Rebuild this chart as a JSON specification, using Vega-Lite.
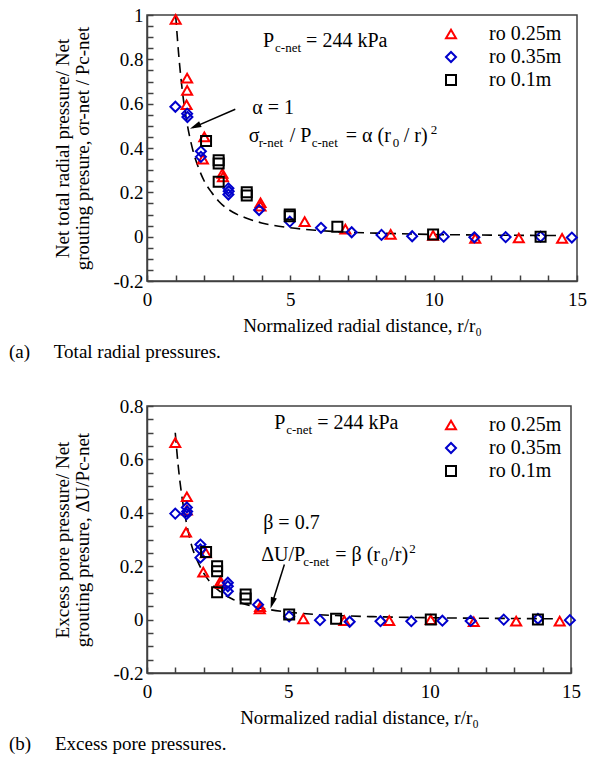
{
  "$schema": "https://vega.github.io/schema/vega-lite/v6.json",
  "padding": {"left": 8, "top": 5, "right": 5, "bottom": 5},
  "spacing": 33,
  "datasets": {
    "topPts": [
      {"r": 1.0, "v": 0.98, "series": "ro 0.25m"},
      {"r": 1.4, "v": 0.715, "series": "ro 0.25m"},
      {"r": 1.4, "v": 0.66, "series": "ro 0.25m"},
      {"r": 1.38, "v": 0.595, "series": "ro 0.25m"},
      {"r": 2.0, "v": 0.45, "series": "ro 0.25m"},
      {"r": 1.95, "v": 0.35, "series": "ro 0.25m"},
      {"r": 2.63, "v": 0.285, "series": "ro 0.25m"},
      {"r": 2.65, "v": 0.27, "series": "ro 0.25m"},
      {"r": 3.96, "v": 0.153, "series": "ro 0.25m"},
      {"r": 3.96, "v": 0.138, "series": "ro 0.25m"},
      {"r": 5.5, "v": 0.068, "series": "ro 0.25m"},
      {"r": 6.92, "v": 0.034, "series": "ro 0.25m"},
      {"r": 8.5, "v": 0.01, "series": "ro 0.25m"},
      {"r": 9.98, "v": 0.006, "series": "ro 0.25m"},
      {"r": 11.45, "v": -0.008, "series": "ro 0.25m"},
      {"r": 12.97, "v": -0.006, "series": "ro 0.25m"},
      {"r": 14.48, "v": -0.008, "series": "ro 0.25m"},
      {"r": 0.99, "v": 0.586, "series": "ro 0.35m"},
      {"r": 1.4, "v": 0.555, "series": "ro 0.35m"},
      {"r": 1.41, "v": 0.54, "series": "ro 0.35m"},
      {"r": 1.88, "v": 0.385, "series": "ro 0.35m"},
      {"r": 1.88, "v": 0.36, "series": "ro 0.35m"},
      {"r": 2.84, "v": 0.218, "series": "ro 0.35m"},
      {"r": 2.85, "v": 0.205, "series": "ro 0.35m"},
      {"r": 2.84, "v": 0.19, "series": "ro 0.35m"},
      {"r": 3.91, "v": 0.12, "series": "ro 0.35m"},
      {"r": 4.98, "v": 0.068, "series": "ro 0.35m"},
      {"r": 6.07, "v": 0.04, "series": "ro 0.35m"},
      {"r": 7.14, "v": 0.02, "series": "ro 0.35m"},
      {"r": 8.18, "v": 0.008, "series": "ro 0.35m"},
      {"r": 9.25, "v": 0.002, "series": "ro 0.35m"},
      {"r": 10.35, "v": 0.0, "series": "ro 0.35m"},
      {"r": 11.42, "v": -0.003, "series": "ro 0.35m"},
      {"r": 12.51, "v": -0.002, "series": "ro 0.35m"},
      {"r": 13.73, "v": 0.0, "series": "ro 0.35m"},
      {"r": 14.82, "v": -0.004, "series": "ro 0.35m"},
      {"r": 2.06, "v": 0.432, "series": "ro 0.1m"},
      {"r": 2.5, "v": 0.345, "series": "ro 0.1m"},
      {"r": 2.5, "v": 0.33, "series": "ro 0.1m"},
      {"r": 2.5, "v": 0.248, "series": "ro 0.1m"},
      {"r": 3.48, "v": 0.2, "series": "ro 0.1m"},
      {"r": 3.48, "v": 0.186, "series": "ro 0.1m"},
      {"r": 4.98, "v": 0.1, "series": "ro 0.1m"},
      {"r": 4.98, "v": 0.092, "series": "ro 0.1m"},
      {"r": 6.64, "v": 0.045, "series": "ro 0.1m"},
      {"r": 9.98, "v": 0.01, "series": "ro 0.1m"},
      {"r": 13.73, "v": 0.0, "series": "ro 0.1m"}
    ],
    "botPts": [
      {"r": 1.0, "v": 0.663, "series": "ro 0.25m"},
      {"r": 1.41, "v": 0.46, "series": "ro 0.25m"},
      {"r": 1.41, "v": 0.41, "series": "ro 0.25m"},
      {"r": 1.38, "v": 0.327, "series": "ro 0.25m"},
      {"r": 2.08, "v": 0.25, "series": "ro 0.25m"},
      {"r": 1.99, "v": 0.178, "series": "ro 0.25m"},
      {"r": 2.6, "v": 0.144, "series": "ro 0.25m"},
      {"r": 2.62, "v": 0.135, "series": "ro 0.25m"},
      {"r": 3.99, "v": 0.04, "series": "ro 0.25m"},
      {"r": 4.0, "v": 0.048, "series": "ro 0.25m"},
      {"r": 5.53, "v": 0.003, "series": "ro 0.25m"},
      {"r": 6.98, "v": -0.004, "series": "ro 0.25m"},
      {"r": 8.57, "v": -0.004, "series": "ro 0.25m"},
      {"r": 10.04, "v": 0.0, "series": "ro 0.25m"},
      {"r": 11.56, "v": -0.008, "series": "ro 0.25m"},
      {"r": 13.06, "v": -0.006, "series": "ro 0.25m"},
      {"r": 14.6, "v": -0.006, "series": "ro 0.25m"},
      {"r": 1.0, "v": 0.397, "series": "ro 0.35m"},
      {"r": 1.41, "v": 0.42, "series": "ro 0.35m"},
      {"r": 1.42, "v": 0.405, "series": "ro 0.35m"},
      {"r": 1.4, "v": 0.395, "series": "ro 0.35m"},
      {"r": 1.89, "v": 0.281, "series": "ro 0.35m"},
      {"r": 1.89, "v": 0.263, "series": "ro 0.35m"},
      {"r": 1.89, "v": 0.232, "series": "ro 0.35m"},
      {"r": 2.86, "v": 0.138, "series": "ro 0.35m"},
      {"r": 2.86, "v": 0.125, "series": "ro 0.35m"},
      {"r": 2.86, "v": 0.106, "series": "ro 0.35m"},
      {"r": 3.93, "v": 0.056, "series": "ro 0.35m"},
      {"r": 5.03, "v": 0.012, "series": "ro 0.35m"},
      {"r": 6.12, "v": -0.002, "series": "ro 0.35m"},
      {"r": 7.17, "v": -0.008, "series": "ro 0.35m"},
      {"r": 8.26, "v": -0.006, "series": "ro 0.35m"},
      {"r": 9.35, "v": -0.006, "series": "ro 0.35m"},
      {"r": 10.45, "v": -0.004, "series": "ro 0.35m"},
      {"r": 11.45, "v": -0.005, "series": "ro 0.35m"},
      {"r": 12.62, "v": 0.0, "series": "ro 0.35m"},
      {"r": 13.83, "v": 0.003, "series": "ro 0.35m"},
      {"r": 14.96, "v": -0.002, "series": "ro 0.35m"},
      {"r": 2.09, "v": 0.253, "series": "ro 0.1m"},
      {"r": 2.48, "v": 0.2, "series": "ro 0.1m"},
      {"r": 2.48, "v": 0.181, "series": "ro 0.1m"},
      {"r": 2.48, "v": 0.102, "series": "ro 0.1m"},
      {"r": 3.49, "v": 0.094, "series": "ro 0.1m"},
      {"r": 3.49, "v": 0.079, "series": "ro 0.1m"},
      {"r": 5.03, "v": 0.019, "series": "ro 0.1m"},
      {"r": 6.69, "v": 0.003, "series": "ro 0.1m"},
      {"r": 10.04, "v": 0.0, "series": "ro 0.1m"},
      {"r": 13.83, "v": 0.0, "series": "ro 0.1m"}
    ],
    "topCurve": [
      {"r": 1.0, "v": 1.0}, {"r": 1.1, "v": 0.83}, {"r": 1.25, "v": 0.64}, {"r": 1.4, "v": 0.51},
      {"r": 1.6, "v": 0.39}, {"r": 1.8, "v": 0.31}, {"r": 2.0, "v": 0.25}, {"r": 2.25, "v": 0.2},
      {"r": 2.5, "v": 0.16}, {"r": 3.0, "v": 0.11}, {"r": 3.5, "v": 0.082}, {"r": 4.0, "v": 0.062},
      {"r": 5.0, "v": 0.04}, {"r": 6.0, "v": 0.028}, {"r": 7.0, "v": 0.02}, {"r": 8.0, "v": 0.016},
      {"r": 10.0, "v": 0.01}, {"r": 12.0, "v": 0.007}, {"r": 14.5, "v": 0.005}
    ],
    "botCurve": [
      {"r": 1.0, "v": 0.7}, {"r": 1.1, "v": 0.58}, {"r": 1.25, "v": 0.45}, {"r": 1.4, "v": 0.36},
      {"r": 1.6, "v": 0.27}, {"r": 1.8, "v": 0.216}, {"r": 2.0, "v": 0.175}, {"r": 2.25, "v": 0.138},
      {"r": 2.5, "v": 0.112}, {"r": 3.0, "v": 0.078}, {"r": 3.5, "v": 0.057}, {"r": 4.0, "v": 0.044},
      {"r": 5.0, "v": 0.028}, {"r": 6.0, "v": 0.019}, {"r": 7.0, "v": 0.014}, {"r": 8.0, "v": 0.011},
      {"r": 10.0, "v": 0.007}, {"r": 12.0, "v": 0.005}, {"r": 14.5, "v": 0.003}
    ],
    "topArrow": [{"r": 3.08, "v": 0.575}, {"r": 1.6, "v": 0.492}],
    "topHead": [{"r": 1.68, "v": 0.497}],
    "botArrow": [{"r": 4.86, "v": 0.206}, {"r": 4.41, "v": 0.055}],
    "botHead": [{"r": 4.43, "v": 0.062}]
  },
  "vconcat": [
    {
      "width": 430,
      "height": 266,
      "title": {"text": "(a)\u00a0\u00a0\u00a0\u00a0\u00a0Total radial pressures.", "orient": "bottom", "anchor": "start", "frame": "group", "dx": -138, "offset": 8},
      "layer": [
        {"data": {"name": "topCurve"}, "mark": {"type": "line", "color": "#000", "strokeWidth": 1.6, "strokeDash": [10, 6], "interpolate": "monotone"},
          "encoding": {
            "x": {"field": "r", "type": "quantitative", "title": "Normalized radial distance, r/r\u2080", "scale": {"domain": [0, 15], "nice": false, "zero": false}},
            "y": {"field": "v", "type": "quantitative", "title": ["Net total radial pressure/ Net", "grouting presure, \u03c3r-net / Pc-net"], "scale": {"domain": [-0.2, 1], "nice": false, "zero": false}}
          }},
        {"data": {"name": "topPts"},
          "mark": {"type": "point", "filled": false, "strokeWidth": 2, "size": 100, "opacity": 1},
          "encoding": {
            "x": {"field": "r", "type": "quantitative", "title": "Normalized radial distance, r/r\u2080", "scale": {"domain": [0, 15], "nice": false, "zero": false}},
            "y": {"field": "v", "type": "quantitative", "title": ["Net total radial pressure/ Net", "grouting presure, \u03c3r-net / Pc-net"], "scale": {"domain": [-0.2, 1], "nice": false, "zero": false}},
            "shape": {"field": "series", "type": "nominal", "scale": {"domain": ["ro 0.25m", "ro 0.35m", "ro 0.1m"], "range": ["triangle-up", "diamond", "square"]},
              "legend": {"title": null, "orient": "none", "legendX": 294, "legendY": 9}},
            "color": {"field": "series", "type": "nominal", "scale": {"domain": ["ro 0.25m", "ro 0.35m", "ro 0.1m"], "range": ["#ff0000", "#0000cc", "#000000"]},
              "legend": {"title": null, "orient": "none", "legendX": 294, "legendY": 9}}
          }},
        {"data": {"name": "topArrow"}, "mark": {"type": "line", "color": "#000", "strokeWidth": 1.5},
          "encoding": {
            "x": {"field": "r", "type": "quantitative", "title": "Normalized radial distance, r/r\u2080", "scale": {"domain": [0, 15], "nice": false, "zero": false}},
            "y": {"field": "v", "type": "quantitative", "title": ["Net total radial pressure/ Net", "grouting presure, \u03c3r-net / Pc-net"], "scale": {"domain": [-0.2, 1], "nice": false, "zero": false}}
          }},
        {"data": {"name": "topHead"}, "mark": {"type": "point", "shape": "M0,-1L0.55,1L-0.55,1Z", "filled": true, "color": "#000", "size": 130, "angle": 246, "opacity": 1},
          "encoding": {
            "x": {"field": "r", "type": "quantitative", "title": "Normalized radial distance, r/r\u2080", "scale": {"domain": [0, 15], "nice": false, "zero": false}},
            "y": {"field": "v", "type": "quantitative", "title": ["Net total radial pressure/ Net", "grouting presure, \u03c3r-net / Pc-net"], "scale": {"domain": [-0.2, 1], "nice": false, "zero": false}}
          }},
        {"data": {"values": [{"t": "P"}]}, "mark": {"type": "text", "align": "left", "baseline": "alphabetic", "fontSize": 20},
          "encoding": {"x": {"datum": 4.05}, "y": {"datum": 0.856}, "text": {"field": "t"}}},
        {"data": {"values": [{"t": "c-net"}]}, "mark": {"type": "text", "align": "left", "baseline": "alphabetic", "fontSize": 13, "dx": 12, "dy": 5},
          "encoding": {"x": {"datum": 4.05}, "y": {"datum": 0.856}, "text": {"field": "t"}}},
        {"data": {"values": [{"t": "= 244 kPa"}]}, "mark": {"type": "text", "align": "left", "baseline": "alphabetic", "fontSize": 20, "dx": 43},
          "encoding": {"x": {"datum": 4.05}, "y": {"datum": 0.856}, "text": {"field": "t"}}},
        {"data": {"values": [{"t": "\u03b1 = 1"}]}, "mark": {"type": "text", "align": "left", "baseline": "alphabetic", "fontSize": 20},
          "encoding": {"x": {"datum": 3.67}, "y": {"datum": 0.554}, "text": {"field": "t"}}},
        {"data": {"values": [{"t": "\u03c3"}]}, "mark": {"type": "text", "align": "left", "baseline": "alphabetic", "fontSize": 20},
          "encoding": {"x": {"datum": 3.55}, "y": {"datum": 0.428}, "text": {"field": "t"}}},
        {"data": {"values": [{"t": "r-net"}]}, "mark": {"type": "text", "align": "left", "baseline": "alphabetic", "fontSize": 13, "dx": 10, "dy": 5},
          "encoding": {"x": {"datum": 3.55}, "y": {"datum": 0.428}, "text": {"field": "t"}}},
        {"data": {"values": [{"t": "/ P"}]}, "mark": {"type": "text", "align": "left", "baseline": "alphabetic", "fontSize": 20, "dx": 41},
          "encoding": {"x": {"datum": 3.55}, "y": {"datum": 0.428}, "text": {"field": "t"}}},
        {"data": {"values": [{"t": "c-net "}]}, "mark": {"type": "text", "align": "left", "baseline": "alphabetic", "fontSize": 13, "dx": 63, "dy": 5},
          "encoding": {"x": {"datum": 3.55}, "y": {"datum": 0.428}, "text": {"field": "t"}}},
        {"data": {"values": [{"t": "= \u03b1 (r"}]}, "mark": {"type": "text", "align": "left", "baseline": "alphabetic", "fontSize": 20, "dx": 97},
          "encoding": {"x": {"datum": 3.55}, "y": {"datum": 0.428}, "text": {"field": "t"}}},
        {"data": {"values": [{"t": "0"}]}, "mark": {"type": "text", "align": "left", "baseline": "alphabetic", "fontSize": 13, "dx": 144, "dy": 5},
          "encoding": {"x": {"datum": 3.55}, "y": {"datum": 0.428}, "text": {"field": "t"}}},
        {"data": {"values": [{"t": "/ r)"}]}, "mark": {"type": "text", "align": "left", "baseline": "alphabetic", "fontSize": 20, "dx": 155},
          "encoding": {"x": {"datum": 3.55}, "y": {"datum": 0.428}, "text": {"field": "t"}}},
        {"data": {"values": [{"t": "2"}]}, "mark": {"type": "text", "align": "left", "baseline": "alphabetic", "fontSize": 13, "dx": 182, "dy": -8},
          "encoding": {"x": {"datum": 3.55}, "y": {"datum": 0.428}, "text": {"field": "t"}}}
      ],
      "resolve": {"scale": {"color": "independent", "shape": "independent"}}
    },
    {
      "width": 424,
      "height": 267,
      "title": {"text": "(b)\u00a0\u00a0\u00a0\u00a0\u00a0Excess pore pressures.", "orient": "bottom", "anchor": "start", "frame": "group", "dx": -138, "offset": 8},
      "layer": [
        {"data": {"name": "botCurve"}, "mark": {"type": "line", "color": "#000", "strokeWidth": 1.6, "strokeDash": [10, 6], "interpolate": "monotone"},
          "encoding": {
            "x": {"field": "r", "type": "quantitative", "title": "Normalized radial distance, r/r\u2080", "scale": {"domain": [0, 15], "nice": false, "zero": false}},
            "y": {"field": "v", "type": "quantitative", "title": ["Excess pore pressure/ Net", "grouting presure, \u0394U/Pc-net"], "scale": {"domain": [-0.2, 0.8], "nice": false, "zero": false}}
          }},
        {"data": {"name": "botPts"},
          "mark": {"type": "point", "filled": false, "strokeWidth": 2, "size": 100, "opacity": 1},
          "encoding": {
            "x": {"field": "r", "type": "quantitative", "title": "Normalized radial distance, r/r\u2080", "scale": {"domain": [0, 15], "nice": false, "zero": false}},
            "y": {"field": "v", "type": "quantitative", "title": ["Excess pore pressure/ Net", "grouting presure, \u0394U/Pc-net"], "scale": {"domain": [-0.2, 0.8], "nice": false, "zero": false}},
            "shape": {"field": "series", "type": "nominal", "scale": {"domain": ["ro 0.25m", "ro 0.35m", "ro 0.1m"], "range": ["triangle-up", "diamond", "square"]},
              "legend": {"title": null, "orient": "none", "legendX": 294, "legendY": 9}},
            "color": {"field": "series", "type": "nominal", "scale": {"domain": ["ro 0.25m", "ro 0.35m", "ro 0.1m"], "range": ["#ff0000", "#0000cc", "#000000"]},
              "legend": {"title": null, "orient": "none", "legendX": 294, "legendY": 9}}
          }},
        {"data": {"name": "botArrow"}, "mark": {"type": "line", "color": "#000", "strokeWidth": 1.5},
          "encoding": {
            "x": {"field": "r", "type": "quantitative", "title": "Normalized radial distance, r/r\u2080", "scale": {"domain": [0, 15], "nice": false, "zero": false}},
            "y": {"field": "v", "type": "quantitative", "title": ["Excess pore pressure/ Net", "grouting presure, \u0394U/Pc-net"], "scale": {"domain": [-0.2, 0.8], "nice": false, "zero": false}}
          }},
        {"data": {"name": "botHead"}, "mark": {"type": "point", "shape": "M0,-1L0.55,1L-0.55,1Z", "filled": true, "color": "#000", "size": 130, "angle": 197, "opacity": 1},
          "encoding": {
            "x": {"field": "r", "type": "quantitative", "title": "Normalized radial distance, r/r\u2080", "scale": {"domain": [0, 15], "nice": false, "zero": false}},
            "y": {"field": "v", "type": "quantitative", "title": ["Excess pore pressure/ Net", "grouting presure, \u0394U/Pc-net"], "scale": {"domain": [-0.2, 0.8], "nice": false, "zero": false}}
          }},
        {"data": {"values": [{"t": "P "}]}, "mark": {"type": "text", "align": "left", "baseline": "alphabetic", "fontSize": 20},
          "encoding": {"x": {"datum": 4.5}, "y": {"datum": 0.713}, "text": {"field": "t"}}},
        {"data": {"values": [{"t": "c-net\u00a0"}]}, "mark": {"type": "text", "align": "left", "baseline": "alphabetic", "fontSize": 13, "dx": 12, "dy": 5},
          "encoding": {"x": {"datum": 4.5}, "y": {"datum": 0.713}, "text": {"field": "t"}}},
        {"data": {"values": [{"t": "= 244 kPa "}]}, "mark": {"type": "text", "align": "left", "baseline": "alphabetic", "fontSize": 20, "dx": 43},
          "encoding": {"x": {"datum": 4.5}, "y": {"datum": 0.713}, "text": {"field": "t"}}},
        {"data": {"values": [{"t": "\u03b2 = 0.7"}]}, "mark": {"type": "text", "align": "left", "baseline": "alphabetic", "fontSize": 20},
          "encoding": {"x": {"datum": 4.11}, "y": {"datum": 0.338}, "text": {"field": "t"}}},
        {"data": {"values": [{"t": "\u0394U/P"}]}, "mark": {"type": "text", "align": "left", "baseline": "alphabetic", "fontSize": 20},
          "encoding": {"x": {"datum": 4.04}, "y": {"datum": 0.221}, "text": {"field": "t"}}},
        {"data": {"values": [{"t": "c-net\u00a0\u00a0"}]}, "mark": {"type": "text", "align": "left", "baseline": "alphabetic", "fontSize": 13, "dx": 42, "dy": 5},
          "encoding": {"x": {"datum": 4.04}, "y": {"datum": 0.221}, "text": {"field": "t"}}},
        {"data": {"values": [{"t": "= \u03b2 (r"}]}, "mark": {"type": "text", "align": "left", "baseline": "alphabetic", "fontSize": 20, "dx": 74},
          "encoding": {"x": {"datum": 4.04}, "y": {"datum": 0.221}, "text": {"field": "t"}}},
        {"data": {"values": [{"t": "0 "}]}, "mark": {"type": "text", "align": "left", "baseline": "alphabetic", "fontSize": 13, "dx": 120, "dy": 5},
          "encoding": {"x": {"datum": 4.04}, "y": {"datum": 0.221}, "text": {"field": "t"}}},
        {"data": {"values": [{"t": "/r)"}]}, "mark": {"type": "text", "align": "left", "baseline": "alphabetic", "fontSize": 20, "dx": 128},
          "encoding": {"x": {"datum": 4.04}, "y": {"datum": 0.221}, "text": {"field": "t"}}},
        {"data": {"values": [{"t": "2 "}]}, "mark": {"type": "text", "align": "left", "baseline": "alphabetic", "fontSize": 13, "dx": 148, "dy": -8},
          "encoding": {"x": {"datum": 4.04}, "y": {"datum": 0.221}, "text": {"field": "t"}}}
      ],
      "resolve": {"scale": {"color": "independent", "shape": "independent"}}
    }
  ],
  "resolve": {"scale": {"color": "independent", "shape": "independent", "x": "independent", "y": "independent"}, "legend": {"color": "independent", "shape": "independent"}},
  "config": {
    "font": "Liberation Serif",
    "view": {"stroke": "#404040", "strokeWidth": 1.5},
    "text": {"font": "Liberation Serif", "color": "#000"},
    "title": {"font": "Liberation Serif", "fontSize": 19, "fontWeight": "normal", "color": "#000"},
    "axis": {"grid": false, "labelFont": "Liberation Serif", "labelFontSize": 19, "labelColor": "#000",
      "titleFont": "Liberation Serif", "titleFontSize": 19, "titleFontWeight": "normal", "titleColor": "#000", "titleLineHeight": 20,
      "domainColor": "#404040", "domainWidth": 1.5, "tickColor": "#404040", "tickWidth": 1.5, "tickSize": -6,
      "labelPadding": 10, "labelFlush": false, "labelOverlap": false},
    "axisX": {"tickCount": 15, "labelExpr": "datum.value % 5 === 0 ? datum.label : ''", "labelPadding": 15, "titlePadding": 7},
    "axisY": {"tickCount": 24, "labelExpr": "abs(datum.value*5 - round(datum.value*5)) < 0.001 ? '' + datum.value : ''", "titlePadding": 20},
    "legend": {"labelFont": "Liberation Serif", "labelFontSize": 20, "labelColor": "#000", "symbolSize": 100, "symbolStrokeWidth": 2, "rowPadding": 3, "labelOffset": 28, "padding": 0}
  }
}
